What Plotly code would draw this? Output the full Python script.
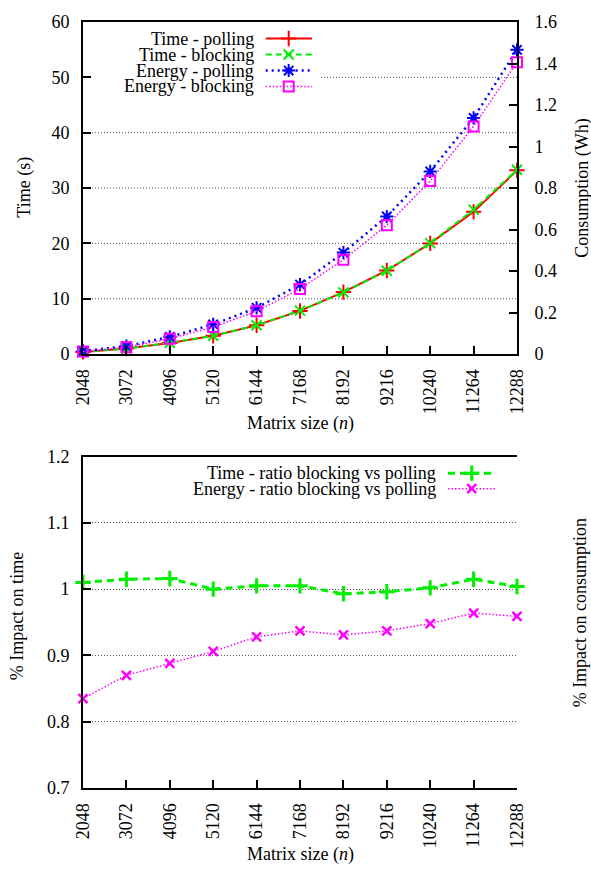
import plotly.graph_objects as go

# ---------------- data ----------------
matrix_sizes = [2048, 3072, 4096, 5120, 6144, 7168, 8192, 9216, 10240, 11264, 12288]
time_polling = [0.4, 1.0, 2.0, 3.3, 5.2, 7.8, 11.2, 15.1, 20.0, 25.7, 33.2]
time_blocking = [0.4, 1.0, 2.05, 3.3, 5.2, 7.85, 11.15, 15.05, 20.05, 26.1, 33.3]
energy_polling = [0.015, 0.038, 0.083, 0.143, 0.223, 0.335, 0.489, 0.663, 0.880, 1.138, 1.466]
energy_blocking = [0.012, 0.033, 0.074, 0.130, 0.207, 0.314, 0.455, 0.621, 0.834, 1.097, 1.406]
ratio_time = [1.010, 1.015, 1.016, 1.000, 1.005, 1.005, 0.993, 0.996, 1.002, 1.015, 1.004]
ratio_energy = [0.835, 0.870, 0.888, 0.906, 0.928, 0.937, 0.931, 0.937, 0.948, 0.964, 0.959]

size_ticktext = [str(v) for v in matrix_sizes]
time_ticks = [0, 10, 20, 30, 40, 50, 60]
energy_ticks = [0, 0.2, 0.4, 0.6, 0.8, 1.0, 1.2, 1.4, 1.6]
energy_ticktext = ["0", "0.2", "0.4", "0.6", "0.8", "1", "1.2", "1.4", "1.6"]
ratio_ticks = [0.7, 0.8, 0.9, 1.0, 1.1, 1.2]
ratio_ticktext = ["0.7", "0.8", "0.9", "1", "1.1", "1.2"]

top_names = ["Time - polling", "Time - blocking", "Energy - polling", "Energy - blocking"]
bottom_names = ["Time - ratio blocking vs polling", "Energy - ratio blocking vs polling"]

# ---------------- geometry (pixels) ----------------
W, H = 591, 871
ML, MR, MT, MB = 83, 74, 16, 83
PW, PH = W - ML - MR, H - MT - MB


def px(xp):
    return (xp - ML) / PW


def py(yp):
    return (H - MB - yp) / PH


TOP_DOMAIN = [py(350.7), py(16)]
BOT_DOMAIN = [py(788), py(454)]

# ---------------- styles ----------------
FONT = "Times New Roman, Liberation Serif, DejaVu Serif, serif"
RED, GREEN, BLUE, MAGENTA = "#ff0000", "#00ee00", "#0000ff", "#ff00ff"

styles_top = [
    dict(line=dict(color=RED, width=2, dash="solid"),
         marker=dict(symbol="cross-thin", size=11, line=dict(color=RED, width=2))),
    dict(line=dict(color=GREEN, width=2, dash="6px,4px"),
         marker=dict(symbol="x-thin", size=10, line=dict(color=GREEN, width=2))),
    dict(line=dict(color=BLUE, width=2.5, dash="2px,4px"),
         marker=dict(symbol="asterisk", size=11, line=dict(color=BLUE, width=2))),
    dict(line=dict(color=MAGENTA, width=1.5, dash="1.5px,2px"),
         marker=dict(symbol="square-open", size=10, color=MAGENTA, line=dict(color=MAGENTA, width=2))),
]
styles_bottom = [
    dict(line=dict(color=GREEN, width=3, dash="7px,5px"),
         marker=dict(symbol="cross-thin", size=11, line=dict(color=GREEN, width=3))),
    dict(line=dict(color=MAGENTA, width=1.5, dash="1.5px,2px"),
         marker=dict(symbol="x-thin", size=9, line=dict(color=MAGENTA, width=2.5))),
]

fig = go.Figure()

top_series = [(time_polling, "y"), (time_blocking, "y"), (energy_polling, "y2"), (energy_blocking, "y2")]
for (vals, yax), st, nm in zip(top_series, styles_top, top_names):
    fig.add_trace(go.Scatter(x=matrix_sizes, y=vals, xaxis="x", yaxis=yax, mode="lines+markers",
                             name=nm, line=st["line"], marker=st["marker"], cliponaxis=False,
                             showlegend=False))

bottom_series = [ratio_time, ratio_energy]
for vals, st, nm in zip(bottom_series, styles_bottom, bottom_names):
    fig.add_trace(go.Scatter(x=matrix_sizes, y=vals, xaxis="x2", yaxis="y3", mode="lines+markers",
                             name=nm, line=st["line"], marker=st["marker"], cliponaxis=False,
                             showlegend=False))

# ---------------- gnuplot-style legends ----------------
TOP_KEY_X = [265.7, 288.7, 312.0]
TOP_TEXT_X = 255.7
TOP_ROWS = [32.7, 48.8, 64.9, 81.0]
BOT_KEY_X = [448.0, 471.7, 495.0]
BOT_TEXT_X = 438.3
BOT_ROWS = [470.7, 486.3]

text_font = dict(family=FONT, size=18, color="black")
annotations = []
for st, nm, row in zip(styles_top, top_names, TOP_ROWS):
    fig.add_trace(go.Scatter(x=TOP_KEY_X, y=[row] * 3, xaxis="x3", yaxis="y5", mode="lines+markers",
                             line=st["line"], marker=dict(st["marker"], opacity=[0, 1, 0]),
                             showlegend=False, hoverinfo="skip", cliponaxis=False))
    annotations.append(dict(x=px(TOP_TEXT_X), y=py(row), xref="paper", yref="paper", text=nm,
                            showarrow=False, xanchor="right", yanchor="middle", font=text_font))
for st, nm, row in zip(styles_bottom, bottom_names, BOT_ROWS):
    fig.add_trace(go.Scatter(x=BOT_KEY_X, y=[row] * 3, xaxis="x4", yaxis="y6", mode="lines+markers",
                             line=st["line"], marker=dict(st["marker"], opacity=[0, 1, 0]),
                             showlegend=False, hoverinfo="skip", cliponaxis=False))
    annotations.append(dict(x=px(BOT_TEXT_X), y=py(row), xref="paper", yref="paper", text=nm,
                            showarrow=False, xanchor="right", yanchor="middle", font=text_font))

# axis titles
titles = [
    (300, 421, "Matrix size (<i>n</i>)", 0),
    (300, 855, "Matrix size (<i>n</i>)", 0),
    (25, 183, "Time (s)", -90),
    (583, 183, "Consumption (Wh)", -90),
    (17, 615, "% Impact on time", -90),
    (580, 612, "% Impact on consumption", -90),
]
for xp, yp, txt, ang in titles:
    annotations.append(dict(x=px(xp), y=py(yp), xref="paper", yref="paper", text=txt, textangle=ang,
                            showarrow=False, xanchor="center", yanchor="middle", font=text_font))

# dotted grid lines for the top chart (the one at 50 is interrupted by the key box)
GRID_LINE = dict(color="#555555", width=1, dash="1px,2px")
KEY_BOX_RIGHT = 321
shapes = []
for t in time_ticks[1:-1]:
    x0 = px(KEY_BOX_RIGHT) if t == 50 else 0
    shapes.append(dict(type="line", xref="x domain", yref="y", x0=x0, x1=1, y0=t, y1=t,
                       line=GRID_LINE, layer="below"))

tick_font = dict(family=FONT, size=18, color="black")
common_x = dict(range=[matrix_sizes[0], matrix_sizes[-1]], tickvals=matrix_sizes, ticktext=size_ticktext,
                tickangle=-90, ticks="inside", ticklen=8, tickwidth=1.5, tickcolor="black", showline=True,
                linewidth=2, linecolor="black", mirror=True, showgrid=False, zeroline=False,
                tickfont=tick_font, ticklabelstandoff=6)
common_y = dict(ticks="inside", ticklen=8, tickwidth=1.5, tickcolor="black", showline=True,
                linewidth=2, linecolor="black", zeroline=False, tickfont=tick_font)

fig.update_layout(
    width=W, height=H,
    margin=dict(l=ML, r=MR, t=MT, b=MB),
    paper_bgcolor="white", plot_bgcolor="rgba(0,0,0,0)",
    showlegend=False, hovermode=False,
    font=dict(family=FONT, size=18, color="black"),
    xaxis=dict(common_x, domain=[0, 1], anchor="y"),
    yaxis=dict(common_y, showgrid=False, domain=TOP_DOMAIN, range=[0, 60], tickvals=time_ticks,
               side="left", ticklabelstandoff=8, anchor="x"),
    yaxis2=dict(common_y, showgrid=False, overlaying="y", side="right", range=[0, 1.6],
                tickvals=energy_ticks, ticktext=energy_ticktext, ticklabelstandoff=12, anchor="x"),
    xaxis2=dict(common_x, domain=[0, 1], anchor="y3"),
    yaxis3=dict(common_y, showgrid=True, gridcolor="#555555", gridwidth=1, griddash="1px,2px",
                domain=BOT_DOMAIN, range=[0.7, 1.2], tickvals=ratio_ticks,
                ticktext=ratio_ticktext, side="left", ticklabelstandoff=8, anchor="x2"),
    yaxis4=dict(common_y, showgrid=False, overlaying="y3", side="right", range=[0.7, 1.2],
                tickvals=ratio_ticks, ticktext=ratio_ticktext, ticklabelstandoff=12, anchor="x2"),
    xaxis3=dict(overlaying="x", range=[ML, W - MR], visible=False, anchor="y5"),
    yaxis5=dict(overlaying="y", range=[350.7, 16], visible=False, anchor="x3"),
    xaxis4=dict(overlaying="x2", range=[ML, W - MR], visible=False, anchor="y6"),
    yaxis6=dict(overlaying="y3", range=[788, 454], visible=False, anchor="x4"),
    annotations=annotations,
    shapes=shapes,
)

fig.write_html("out.html", config={"displayModeBar": False},
               post_script="document.body.style.margin='0px';document.body.style.overflow='hidden';")
